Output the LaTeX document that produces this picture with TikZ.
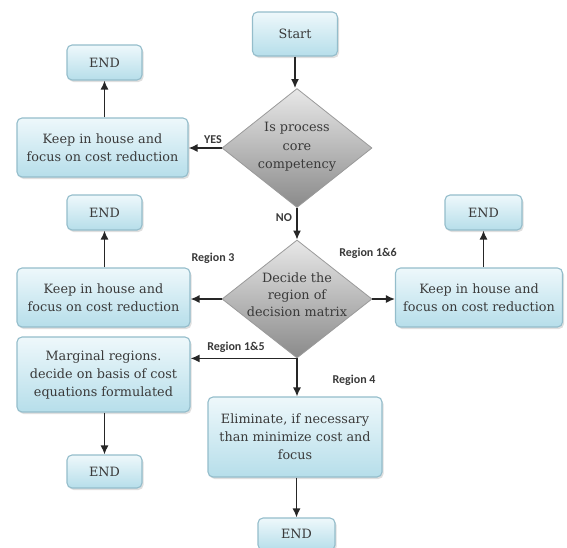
\documentclass[tikz,border=0pt]{standalone}
\usepackage{fontspec}
\setmainfont{DejaVu Serif}
\newfontfamily\lblfont{Carlito}
\usetikzlibrary{shapes.geometric,arrows.meta,shadows}
\definecolor{boxtop}{HTML}{EEF8FB}
\definecolor{boxbot}{HTML}{B6DEEA}
\definecolor{boxline}{HTML}{94BDCB}
\definecolor{dtop}{HTML}{E8E8E8}
\definecolor{dbot}{HTML}{8A8A8A}
\definecolor{dline}{HTML}{9A9A9A}
\definecolor{txt}{HTML}{3A3A3A}
\begin{document}
\begin{tikzpicture}[x=1pt,y=-1pt,
  box/.style={draw=boxline, line width=1.1pt, rounded corners=5pt,
    top color=boxtop, bottom color=boxbot,
    drop shadow={shadow xshift=1.5pt, shadow yshift=-2pt, opacity=0.25},
    align=center, text=txt, font=\fontsize{12.8}{18}\selectfont, inner sep=0pt},
  dia/.style={diamond, draw=dline, line width=0.8pt, top color=dtop, bottom color=dbot,
    inner sep=0pt, minimum width=150pt, minimum height=119pt},
  dtext/.style={align=center, text=txt, font=\fontsize{12.8}{18.5}\selectfont},
  arr/.style={-{Latex[length=9pt,width=8pt]}, line width=1.4pt, draw=black!85},
  lbl/.style={font=\lblfont\bfseries\fontsize{12}{13}\selectfont, text=txt, inner sep=0pt}
]
\useasboundingbox (0,0) rectangle (567,547);
% nodes
\node[box, minimum width=85pt, minimum height=44pt] (start) at (295,34) {Start};
\node[dia] (d1) at (297,148) {};
\node[dtext] at (297,147) {Is process\\core\\competency};
\node[box, minimum width=171pt, minimum height=59pt] (left1) at (102.5,147.5) {Keep in house and\\focus on cost reduction};
\node[box, minimum width=75pt, minimum height=35pt] (end1) at (104.5,62.5) {END};

\node[dia, minimum height=118pt] (d2) at (297,299) {};
\node[dtext, font=\fontsize{12.8}{17}\selectfont] at (297,295) {Decide the\\region of\\decision matrix};
\node[box, minimum width=173pt, minimum height=59pt] (left2) at (103.5,297.5) {Keep in house and\\focus on cost reduction};
\node[box, minimum width=75pt, minimum height=35pt] (end2) at (104.5,212.5) {END};
\node[box, minimum width=167pt, minimum height=59pt] (right) at (479,297.5) {Keep in house and\\focus on cost reduction};
\node[box, minimum width=77pt, minimum height=35pt] (endR) at (483.5,212.5) {END};

\node[box, minimum width=173pt, minimum height=75pt] (marg) at (103.5,374.5) {Marginal regions.\\decide on basis of cost\\equations formulated};
\node[box, minimum width=75pt, minimum height=33pt] (endM) at (104.5,471.5) {END};
\node[box, minimum width=174pt, minimum height=80pt] (elim) at (295,437) {Eliminate, if necessary\\than minimize cost and\\focus};
\node[box, minimum width=77pt, minimum height=32pt] (endB) at (296.5,534) {END};

% connectors
\draw[arr] (start.south) -- (start.south |- d1.north);
\draw[arr] (d1.west) -- (left1.east |- d1.west);
\draw[arr] (left1.north -| end1.south) -- (end1.south);
\draw[arr] (d1.south) -- (d1.south |- d2.north);
\draw[arr] (d2.west) -- (left2.east |- d2.west);
\draw[arr] (left2.north -| end2.south) -- (end2.south);
\draw[arr] (d2.east) -- (right.west |- d2.east);
\draw[arr] (endR.south |- right.north) -- (endR.south);
\draw[arr] (d2.south) -- (d2.south -| marg.east);
\draw[arr] (d2.south) -- (d2.south |- elim.north);
\draw[arr] (marg.south -| endM.north) -- (endM.north);
\draw[arr] (elim.south -| endB.north) -- (endB.north);

% labels
\node[lbl] (yes) at (213,140) {YES};
\node[lbl] (no) at (284,218) {NO};
\node[lbl] (r3) at (213,258) {Region 3};
\node[lbl] (r16) at (368,253) {Region 1\&6};
\node[lbl] (r15) at (236,347) {Region 1\&5};
\node[lbl] (r4) at (354,380) {Region 4};
\end{tikzpicture}
\end{document}
